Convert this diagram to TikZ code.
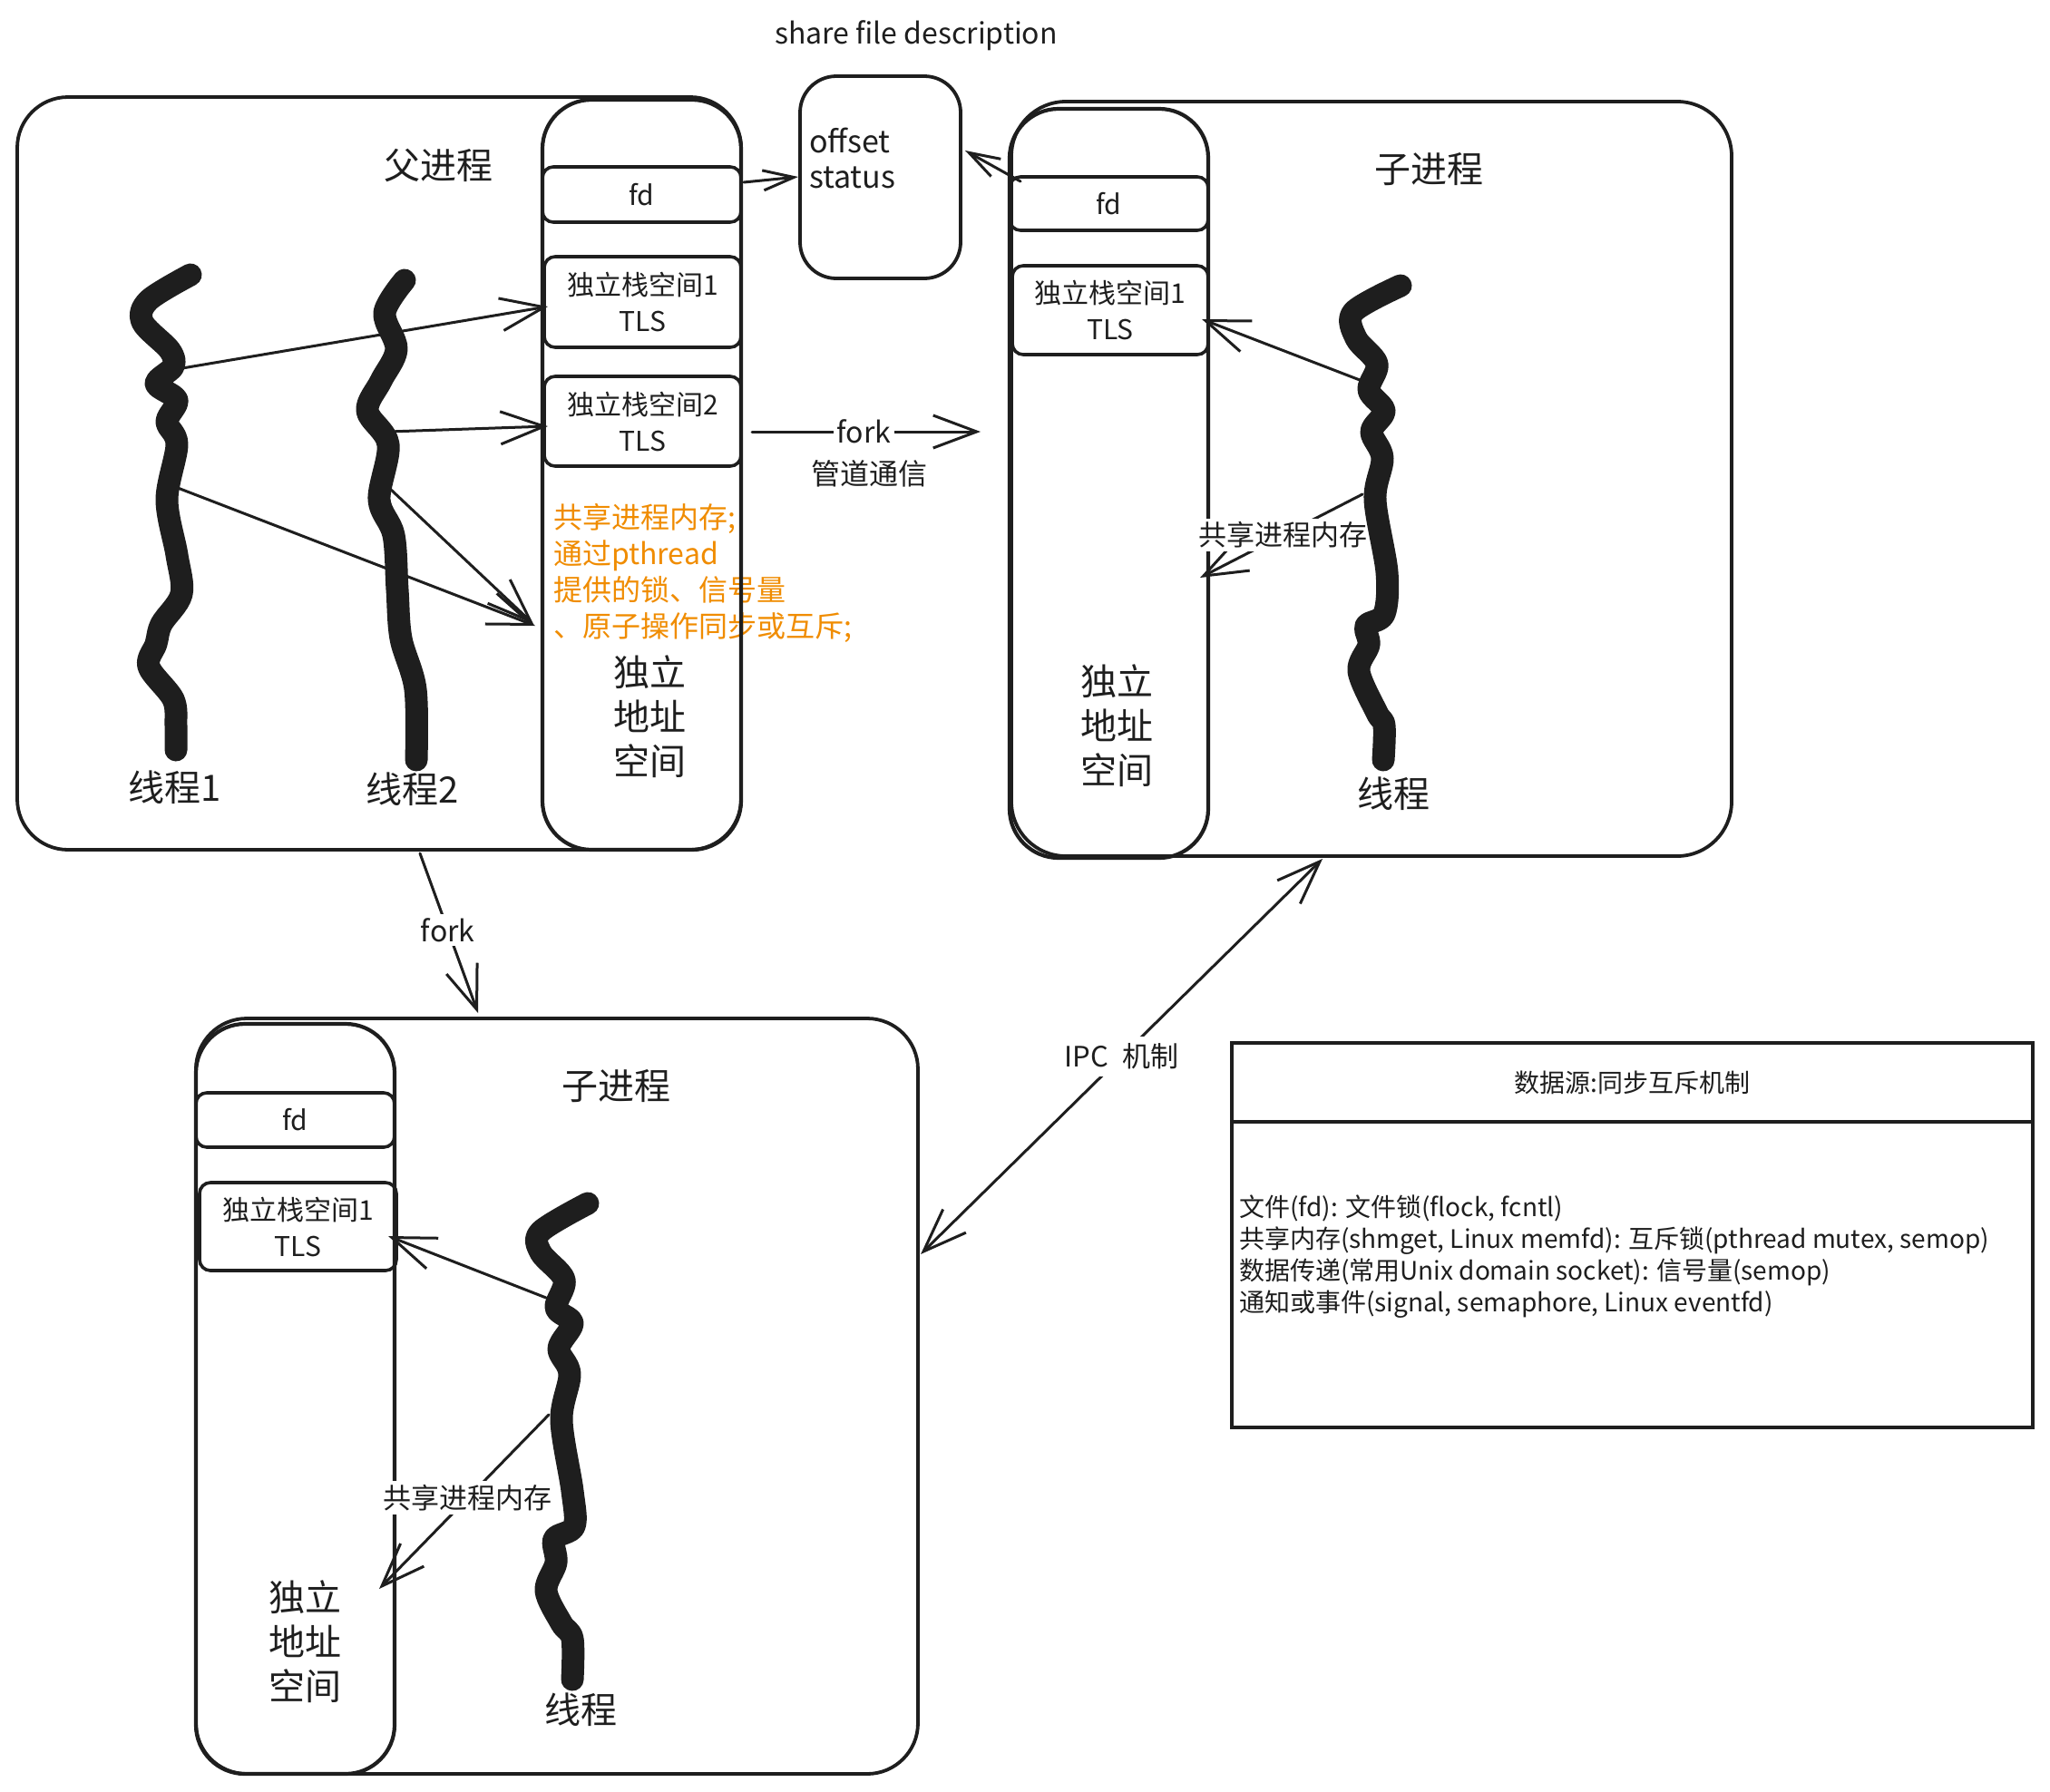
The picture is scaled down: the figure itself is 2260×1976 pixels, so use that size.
\documentclass[tikz,border=0pt]{standalone}
\usepackage{fontspec}
\setmainfont{Noto Sans CJK SC}
\usetikzlibrary{arrows.meta}
\definecolor{ink}{HTML}{1E1E1E}
\definecolor{orng}{HTML}{F08C00}
\newcommand\fsz[2]{\fontsize{#1}{#2}\selectfont}
\begin{document}
\begin{tikzpicture}[x=0.5pt,y=-0.5pt,
  every node/.style={text=ink, inner sep=0pt, outer sep=0pt},
  frame/.style={draw=ink, line width=1.9pt, rounded corners=28pt},
  col/.style={draw=ink, line width=2.1pt, rounded corners=27pt, minimum width=109.5pt},
  cell/.style={draw=ink, line width=1.8pt, rounded corners=6pt, align=center, font=\fsz{15pt}{20pt}},
  bigtxt/.style={font=\fsz{20pt}{24.5pt}, align=center},
  arr/.style={draw=ink, line width=1.5pt, line cap=round, -{Straight Barb[length=24pt,width=18pt]}},
  arrsmall/.style={draw=ink, line width=1.5pt, line cap=round, -{Straight Barb[length=17pt,width=11pt]}},
  arrdbl/.style={draw=ink, line width=1.5pt, line cap=round, {Straight Barb[length=24pt,width=18pt]}-{Straight Barb[length=24pt,width=18pt]}},
  lbl/.style={fill=white, inner sep=2pt, font=\fsz{15.5pt}{18pt}},
  thread/.style={draw=ink, line width=12.5pt, line cap=round, line join=round}]
\useasboundingbox (0,0) rectangle (2260,1976);
\fill[white] (0,0) rectangle (2260,1976);

% ---------- orange note (behind column border)
\node[anchor=west, align=left, text=orng, font=\fsz{16pt}{20pt}] (otxt) at (610,632)
  {共享进程内存;\\通过pthread\\提供的锁、信号量\\、原子操作同步或互斥;};

% ---------- parent process
\node[frame, minimum width=399pt, minimum height=415pt] (pout) at (418,522) {};
\node[col, minimum height=413.5pt] (pcol) at (707.5,523.5) {};
\node[cell, minimum width=109.5pt, minimum height=30.5pt] (pfd) at (707.5,214.5) {fd};
\node[cell, minimum width=108.5pt, minimum height=50pt] (ps1) at (708.5,333) {独立栈空间1\\TLS};
\node[cell, minimum width=108.5pt, minimum height=49.5pt] (ps2) at (708.5,464.5) {独立栈空间2\\TLS};
\node[bigtxt] (paddr) at (716,790) {独立\\地址\\空间};
\node[bigtxt] (ptitle) at (483,182) {父进程};
\node[bigtxt] (pt1lab) at (193,868) {线程1};
\node[bigtxt] (pt2lab) at (455,870) {线程2};

% ---------- shared file description
\node[frame, rounded corners=20pt, minimum width=88.5pt, minimum height=111.5pt] (off) at (970.5,195.5) {};
\node[anchor=west, align=left, font=\fsz{17pt}{19.5pt}] (offtxt) at (892,174) {offset\\status};
\node[font=\fsz{16pt}{20pt}] (share) at (1010,39) {share file description};

% ---------- child process (top right)
\node[frame, rounded corners=30pt, minimum width=397pt, minimum height=416pt] (cout) at (1512,528) {};
\node[col, minimum height=413pt] (ccol) at (1222.5,533) {};
\node[cell, minimum width=109.5pt, minimum height=29.5pt] (cfd) at (1222.5,224.5) {fd};
\node[cell, minimum width=108pt, minimum height=49pt] (cs1) at (1224,342) {独立栈空间1\\TLS};
\node[bigtxt] (caddr) at (1231,800) {独立\\地址\\空间};
\node[bigtxt] (ctitle) at (1575,187) {子进程};
\node[bigtxt] (ctlab) at (1536,875) {线程};

% ---------- child process (bottom)
\node[frame, minimum width=398pt, minimum height=416.5pt] (bout) at (614,1539.5) {};
\node[col, minimum height=413.5pt] (bcol) at (325.5,1542.5) {};
\node[cell, minimum width=109.5pt, minimum height=30pt] (bfd) at (325.5,1235) {fd};
\node[cell, minimum width=108.5pt, minimum height=48.5pt] (bs1) at (328.5,1352.5) {独立栈空间1\\TLS};
\node[bigtxt] (baddr) at (336,1810) {独立\\地址\\空间};
\node[bigtxt] (btitle) at (679,1198) {子进程};
\node[bigtxt] (btlab) at (640,1885) {线程};

% ---------- table
\node[draw=ink, line width=2pt, minimum width=441.5pt, minimum height=43.5pt, font=\fsz{14pt}{16pt}] (ttitle) at (1799.5,1193.5) {数据源:同步互斥机制};
\node[draw=ink, line width=2pt, minimum width=441.5pt, minimum height=168.5pt] (tbody) at (1799.5,1405.5) {};
\node[anchor=west, align=left, font=\fsz{14pt}{17.5pt}] (ttext) at (1366,1386)
  {文件(fd): 文件锁(flock, fcntl)\\
   共享内存(shmget, Linux memfd): 互斥锁(pthread mutex, semop)\\
   数据传递(常用Unix domain socket): 信号量(semop)\\
   通知或事件(signal, semaphore, Linux eventfd)};

% ---------- connector end points
\coordinate (pa1s) at (195,407);  \coordinate (pa1e) at (604,338);
\coordinate (pa2s) at (429,476);  \coordinate (pa2e) at (604,470);
\coordinate (pa3s) at (196,538);  \coordinate (pa3e) at (590,690);
\coordinate (pa4s) at (430,539);  \coordinate (pa4e) at (588,688);
\coordinate (fdA) at (820,201);   \coordinate (fdB) at (880,195);
\coordinate (cfdA) at (1125,200); \coordinate (cfdB) at (1064,166);
\coordinate (forkA) at (829,476); \coordinate (forkB) at (1081,476);
\coordinate (forkC) at (463,941); \coordinate (forkD) at (527,1117);
\coordinate (ipcA) at (1015,1383); \coordinate (ipcB) at (1458,947);
\coordinate (ca1s) at (1499,419); \coordinate (ca1e) at (1325,352);
\coordinate (ca2s) at (1502,545); \coordinate (ca2e) at (1323,637);
\coordinate (ba1s) at (602,1431); \coordinate (ba1e) at (428,1363);
\coordinate (ba2s) at (605,1560); \coordinate (ba2e) at (418,1752);

% ---------- connectors
\draw[arr] (pa1s) -- (pa1e);
\draw[arr] (pa2s) -- (pa2e);
\draw[arr] (pa3s) -- (pa3e);
\draw[arr] (pa4s) -- (pa4e);
\draw[arrsmall] (fdA) -- (fdB);
\draw[arrsmall] (cfdA) -- (cfdB);
\draw[arr] (forkA) -- node[lbl, pos=0.49, font=\fsz{16pt}{18pt}] (forklbl) {fork} (forkB);
\node[font=\fsz{16pt}{20pt}] (pipe) at (958,522) {管道通信};
\draw[arr] (forkC) -- node[lbl, pos=0.48, font=\fsz{16pt}{18pt}] (fork2lbl) {fork} (forkD);
\draw[arrdbl] (ipcA) -- node[lbl, pos=0.5, inner sep=4pt] (ipclbl) {IPC\enspace 机制} (ipcB);
\draw[arr] (ca1s) -- (ca1e);
\draw[arr] (ca2s) -- node[lbl, pos=0.49] (cshm) {共享进程内存} (ca2e);
\draw[arr] (ba1s) -- (ba1e);
\draw[arr] (ba2s) -- node[lbl, pos=0.476] (bshm) {共享进程内存} (ba2e);

% ---------- threads
\draw[thread] plot[smooth, tension=0.55] coordinates {(210,303) (164,331) (157,355) (187,386) (191,404) (172,423) (195,441) (184,465) (195,490) (184,551) (195,612) (200,655) (178,688) (172,710) (164,735) (191,771) (194,800) (194,827)};
\draw[thread] plot[smooth, tension=0.55] coordinates {(446,309) (424,345) (437,385) (420,420) (405,453) (428,490) (418,551) (434,590) (438,650) (442,704) (458,760) (459,838)};
\draw[thread] plot[smooth, tension=0.55] coordinates {(1544,315) (1492,344) (1495,373) (1518,401) (1509,430) (1526,453) (1512,476) (1524,505) (1516,551) (1529,631) (1526,677) (1506,690) (1509,711) (1498,740) (1518,786) (1526,800) (1525,838)};
\draw[thread] plot[smooth, tension=0.55] coordinates {(648,1327) (596,1358) (596,1381) (622,1411) (613,1442) (631,1459) (616,1487) (628,1515) (619,1566) (631,1644) (633,1683) (611,1697) (613,1723) (602,1754) (619,1790) (631,1807) (631,1852)};
\end{tikzpicture}
\end{document}
